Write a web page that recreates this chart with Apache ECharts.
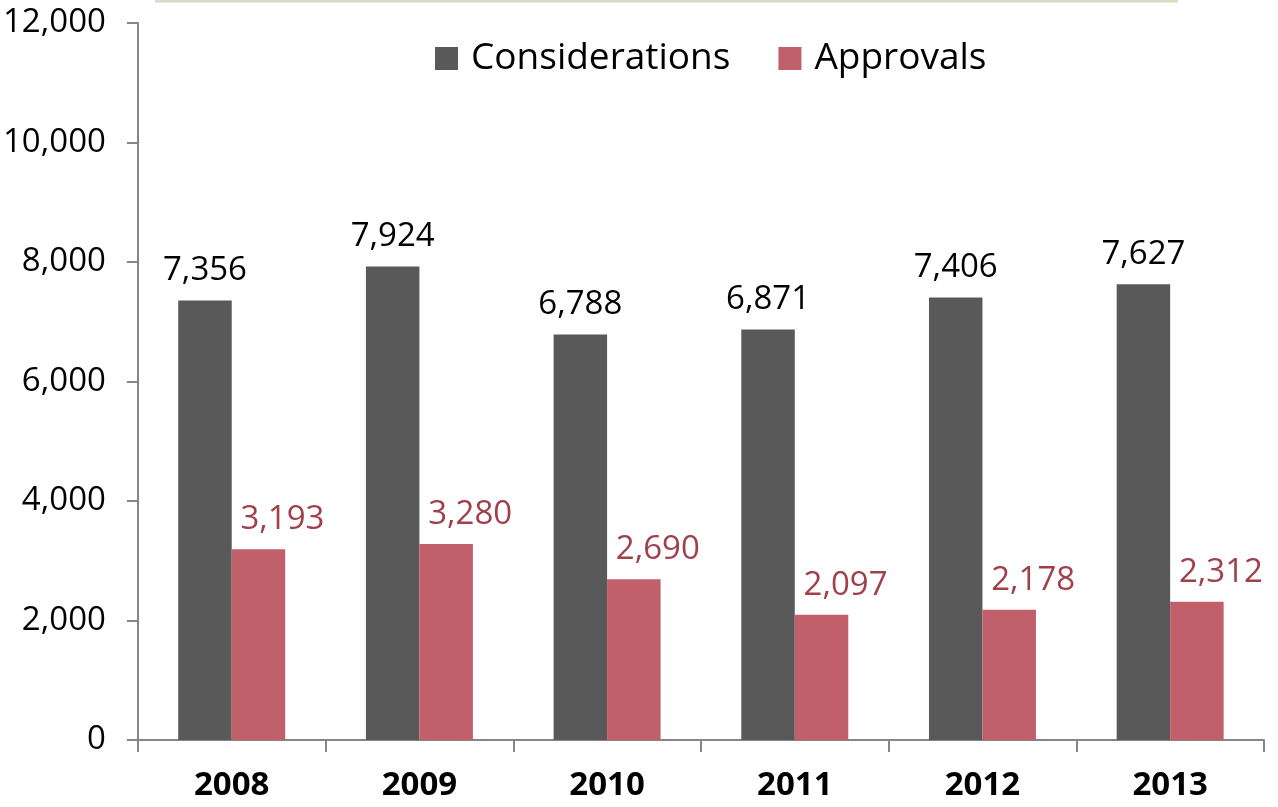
<!DOCTYPE html>
<html>
<head>
<meta charset="utf-8">
<script src="https://cdn.jsdelivr.net/npm/echarts@6/dist/echarts.min.js"></script>
<style>
  html, body { margin: 0; padding: 0; background: #fff; }
  #chart { width: 1278px; height: 807px; }
</style>
</head>
<body>
<div id="chart"></div>
<script>
// Yearly considerations vs approvals
const years = ['2008', '2009', '2010', '2011', '2012', '2013'];
const considerations = [7356, 7924, 6788, 6871, 7406, 7627];
const approvals = [3193, 3280, 2690, 2097, 2178, 2312];

const FONT = '"Open Sans", "Liberation Sans", sans-serif';
const fmt = v => Number(v).toLocaleString('en-US');

const chart = echarts.init(document.getElementById('chart'));
chart.setOption({
  animation: false,
  backgroundColor: '#ffffff',
  textStyle: { fontFamily: FONT },
  graphic: [{
    type: 'line',
    shape: { x1: 155, y1: 1, x2: 1178, y2: 1 },
    style: { stroke: '#ddd9c3', lineWidth: 3 }
  }],
  legend: {
    top: 35,
    left: 430,
    itemWidth: 23,
    itemHeight: 23,
    itemGap: 48,
    icon: 'rect',
    textStyle: { fontSize: 37, color: '#000', fontFamily: FONT, padding: [0, 0, 0, 8] },
    data: ['Considerations', 'Approvals']
  },
  grid: { left: 136, right: 14, top: 23, bottom: 67, containLabel: false },
  xAxis: {
    type: 'category',
    data: years,
    axisLine: { lineStyle: { color: '#868686', width: 2 } },
    axisTick: { show: true, length: 12, lineStyle: { color: '#868686', width: 2 } },
    axisLabel: { fontSize: 33, fontWeight: 'bold', color: '#000', margin: 29, fontFamily: FONT }
  },
  yAxis: {
    type: 'value',
    min: 0,
    max: 12000,
    interval: 2000,
    axisLine: { show: true, lineStyle: { color: '#868686', width: 2 } },
    axisTick: { show: true, length: 11, lineStyle: { color: '#868686', width: 2 } },
    splitLine: { show: false },
    axisLabel: { fontSize: 33, color: '#000', margin: 32, fontFamily: FONT, formatter: fmt }
  },
  series: [
    {
      name: 'Considerations',
      type: 'bar',
      data: considerations,
      barWidth: '28.5%',
      barGap: '0%',
      itemStyle: { color: '#595959' },
      label: {
        show: true,
        position: 'top',
        distance: 13,
        fontSize: 33,
        color: '#000',
        fontFamily: FONT,
        formatter: p => fmt(p.value)
      }
    },
    {
      name: 'Approvals',
      type: 'bar',
      data: approvals,
      barWidth: '28.5%',
      barGap: '0%',
      itemStyle: { color: '#c1606a' },
      label: {
        show: true,
        position: 'top',
        distance: 13,
        offset: [24, 0],
        fontSize: 33,
        color: '#a0404a',
        fontFamily: FONT,
        formatter: p => fmt(p.value)
      }
    }
  ]
});
</script>
</body>
</html>
